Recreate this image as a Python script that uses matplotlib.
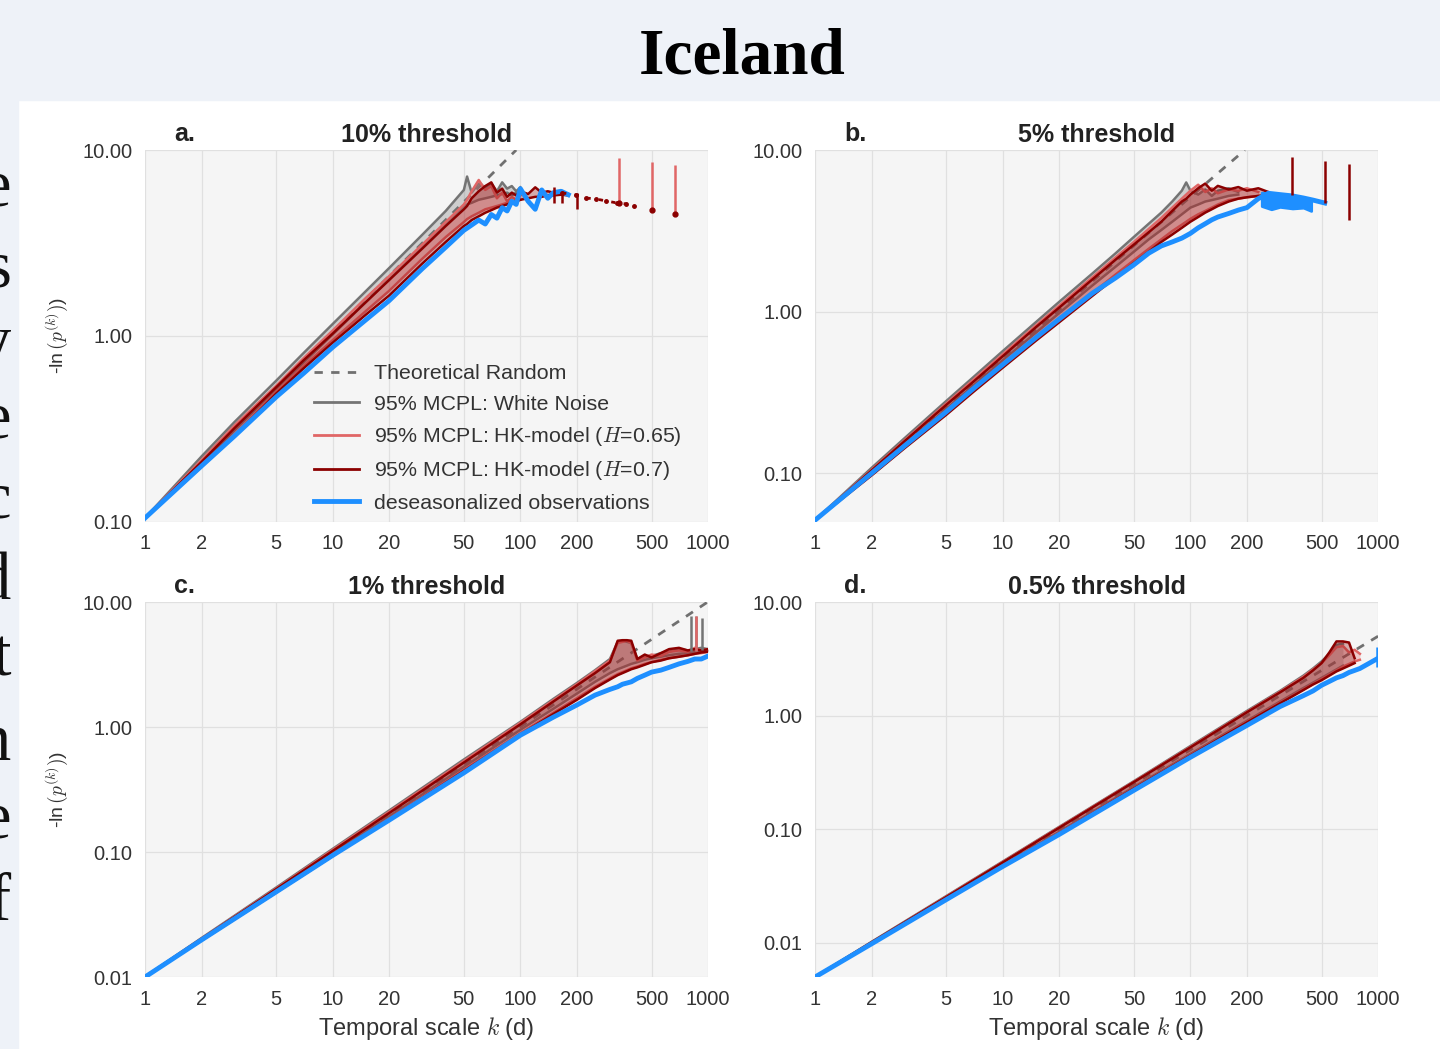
import numpy as np
import matplotlib.pyplot as plt
from matplotlib.patches import Rectangle
from matplotlib.lines import Line2D
from matplotlib.ticker import FixedLocator, FixedFormatter, NullLocator

plt.rcParams['font.family'] = ['Liberation Sans', 'DejaVu Sans']
plt.rcParams['mathtext.fontset'] = 'cm'

nan = np.nan

# x ticks shared by all panels
x_ticks = [1, 2, 5, 10, 20, 50, 100, 200, 500, 1000]

# ---- panel a: 10% threshold ----
k_a = [1, 2, 3, 5, 7, 10, 15, 20, 30, 40, 50, 52, 55, 60, 65, 70, 75, 80, 85, 90,
       95, 100, 110, 120, 130, 140, 150, 165, 180]
theo_k_a = [1, 95]
theo_v_a = [0.105, 10.0]
wn_hi_a = [0.105, 0.225, 0.345, 0.575, 0.81, 1.16, 1.74, 2.32, 3.5, 4.7, 6.1, 7.2, 5.9, 6.6,
           6.3, 6.6, 6.0, 6.7, 6.2, 6.4, 6.0, 6.3, nan, nan, nan, nan, nan, nan, nan]
wn_lo_a = [0.105, 0.205, 0.31, 0.52, 0.72, 1.02, 1.52, 2.02, 3.0, 4.0, 5.0, 5.1, 5.2, 5.4,
           5.5, 5.6, 5.7, 5.8, 5.9, 5.7, 5.9, 6.0, nan, nan, nan, nan, nan, nan, nan]
hk65_hi_a = [0.105, 0.215, 0.33, 0.54, 0.76, 1.07, 1.6, 2.1, 3.1, 4.1, 5.1, 5.4, 6.0, 6.9,
             6.1, 6.4, 5.5, 5.9, 5.3, 5.6, 5.4, 5.7, nan, nan, nan, nan, nan, nan, nan]
hk65_lo_a = [0.105, 0.2, 0.295, 0.5, 0.69, 0.95, 1.36, 1.75, 2.6, 3.4, 4.1, 4.25, 4.4, 4.6,
             4.8, 4.9, 5.0, 5.1, 5.2, 5.3, 5.3, 5.4, nan, nan, nan, nan, nan, nan, nan]
hk70_hi_a = [0.105, 0.21, 0.32, 0.53, 0.74, 1.03, 1.52, 2.0, 2.95, 3.9, 4.8, 5.0, 5.5, 6.0,
             6.4, 6.7, 5.9, 6.2, 5.6, 5.9, 5.7, 6.0, 5.8, 6.3, 5.9, 6.0, 5.9, 5.88, 5.8]
hk70_lo_a = [0.105, 0.198, 0.29, 0.49, 0.67, 0.92, 1.3, 1.65, 2.45, 3.2, 3.9, 4.0, 4.2, 4.4,
             4.6, 4.75, 4.9, 5.0, 5.1, 5.2, 5.3, 5.4, 5.5, 5.6, 5.6, 5.7, 5.7, 5.75, 5.7]
obs_a = [0.105, 0.2, 0.29, 0.47, 0.63, 0.87, 1.22, 1.55, 2.3, 3.0, 3.7, 3.8, 3.95, 4.2,
         4.0, 4.5, 4.3, 4.9, 4.7, 5.3, 5.1, 6.2, 5.3, 4.8, 6.1, 5.5, 5.9, 6.0, 5.75]
tail_k_a = [167, 199, 224, 254, 287, 328, 366, 404]
tail_v_a = [5.88, 5.73, 5.52, 5.45, 5.32, 5.19, 5.13, 5.0]
spike_k_a = [336, 504, 667]
spike_top_a = [9.06, 8.6, 8.3]
spike_bot_a = [5.19, 4.76, 4.53]
tick_k_a = [152, 167, 200]
tick_top_a = [6.3, 5.9, 5.9]
tick_bot_a = [5.2, 5.2, 4.8]

# ---- panel b: 5% threshold ----
k_b = [1, 2, 3, 5, 7, 10, 15, 20, 30, 40, 50, 60, 70, 80, 90, 95, 100, 110, 120, 130,
       140, 160, 180, 200, 230, 260, 300, 350, 400, 450, 520]
theo_k_b = [1, 195]
theo_v_b = [0.0513, 10.0]
wn_hi_b = [0.0513, 0.108, 0.165, 0.28, 0.395, 0.57, 0.86, 1.15, 1.72, 2.3, 2.9, 3.5, 4.1, 4.8,
           5.6, 6.3, 5.6, 5.3, 5.7, 5.2, 5.6, 5.8, 5.5, nan, nan, nan, nan, nan, nan, nan, nan]
wn_lo_b = [0.0513, 0.1, 0.15, 0.25, 0.35, 0.5, 0.74, 0.98, 1.45, 1.9, 2.35, 2.8, 3.2, 3.6,
           4.0, 4.2, 4.4, 4.6, 4.8, 4.9, 5.0, 5.2, 5.3, nan, nan, nan, nan, nan, nan, nan, nan]
hk65_hi_b = [0.0513, 0.105, 0.16, 0.27, 0.38, 0.545, 0.82, 1.09, 1.63, 2.17, 2.7, 3.25, 3.8, 4.4,
             5.0, 5.3, 5.6, 6.1, 5.5, 5.8, 5.4, 5.7, 5.6, 5.8, 5.5, nan, nan, nan, nan, nan, nan]
hk65_lo_b = [0.0513, 0.098, 0.145, 0.235, 0.33, 0.46, 0.68, 0.89, 1.3, 1.7, 2.08, 2.45, 2.8, 3.15,
             3.45, 3.6, 3.75, 4.0, 4.2, 4.4, 4.6, 4.9, 5.0, 5.1, 5.2, nan, nan, nan, nan, nan, nan]
hk70_hi_b = [0.0513, 0.104, 0.158, 0.265, 0.37, 0.53, 0.8, 1.06, 1.58, 2.1, 2.6, 3.1, 3.6, 4.2,
             4.8, 5.0, 5.3, 5.8, 6.2, 5.6, 6.0, 5.7, 5.9, 5.6, 5.8, 5.5, nan, nan, nan, nan, nan]
hk70_lo_b = [0.0513, 0.097, 0.143, 0.23, 0.32, 0.45, 0.66, 0.86, 1.25, 1.63, 2.0, 2.35, 2.7, 3.0,
             3.3, 3.45, 3.6, 3.85, 4.1, 4.3, 4.5, 4.8, 5.0, 5.1, 5.2, 5.3, nan, nan, nan, nan, nan]
obs_b = [0.0513, 0.1, 0.148, 0.24, 0.335, 0.47, 0.69, 0.9, 1.3, 1.62, 1.95, 2.3, 2.55, 2.7,
         2.85, 2.95, 3.05, 3.3, 3.5, 3.7, 3.85, 4.05, 4.25, 4.4, 5.0, 5.4, 5.3, 5.2, 5.05, 4.9, 4.7]
band_k_b = [240, 270, 300, 350, 400, 440]
band_hi_b = [5.45, 5.35, 5.3, 5.2, 5.05, 4.95]
band_lo_b = [4.5, 4.3, 4.45, 4.35, 4.4, 4.2]
spike_k_b = [349, 523, 701]
spike_top_b = [9.0, 8.5, 8.2]
spike_bot_b = [5.3, 4.7, 3.7]

# ---- panel c: 1% threshold ----
k_c = [1, 2, 5, 10, 20, 50, 100, 150, 200, 250, 300, 330, 350, 370, 390, 420, 460, 500,
       560, 620, 700, 780, 850, 920, 1000]
theo_k_c = [1, 995]
theo_v_c = [0.01005, 10.0]
wn_hi_c = [0.01005, 0.0205, 0.052, 0.106, 0.215, 0.55, 1.1, 1.68, 2.25, 2.85, 3.5, 4.8, 4.9,
           4.8, 4.7, 3.5, 3.7, 3.7, 3.9, 4.0, 4.2, 4.1, 4.2, 4.3, 4.2]
wn_lo_c = [0.01005, 0.0198, 0.049, 0.097, 0.193, 0.48, 0.95, 1.4, 1.85, 2.3, 2.7, 2.9, 3.0,
           3.1, 3.2, 3.3, 3.45, 3.55, 3.65, 3.75, 3.85, 3.9, 4.0, 4.05, 4.1]
hk65_hi_c = [0.01005, 0.0203, 0.051, 0.104, 0.21, 0.535, 1.08, 1.64, 2.2, 2.8, 3.4, 4.7, 4.8,
             4.9, 4.7, 3.4, 3.6, 3.8, 3.7, 4.0, 4.1, 4.0, 4.3, 4.1, 4.2]
hk65_lo_c = [0.01005, 0.0197, 0.048, 0.094, 0.185, 0.455, 0.89, 1.3, 1.7, 2.1, 2.45, 2.65, 2.75,
             2.85, 2.95, 3.05, 3.2, 3.3, 3.45, 3.55, 3.65, 3.75, 3.85, 3.9, 4.0]
hk70_hi_c = [0.01005, 0.0202, 0.0505, 0.102, 0.205, 0.52, 1.05, 1.6, 2.15, 2.7, 3.3, 4.9, 4.95,
             4.95, 4.9, 3.5, 3.8, 3.6, 3.9, 4.2, 4.3, 4.1, 4.2, 4.1, 4.2]
hk70_lo_c = [0.01005, 0.0196, 0.0475, 0.093, 0.182, 0.445, 0.87, 1.27, 1.65, 2.05, 2.4, 2.6, 2.7,
             2.8, 2.9, 3.0, 3.15, 3.3, 3.4, 3.55, 3.65, 3.75, 3.85, 3.95, 4.0]
obs_c = [0.01, 0.0198, 0.048, 0.094, 0.18, 0.43, 0.86, 1.2, 1.5, 1.8, 2.0, 2.1, 2.2, 2.25,
         2.3, 2.45, 2.6, 2.75, 2.85, 3.0, 3.2, 3.35, 3.5, 3.5, 3.7]
spike_k_c = [812, 864, 929]
spike_top_c = [7.7, 7.7, 7.5]
spike_bot_c = [4.05, 4.05, 4.1]

# ---- panel d: 0.5% threshold ----
k_d = [1, 2, 5, 10, 20, 50, 100, 200, 300, 400, 450, 500, 550, 600, 650, 700, 750, 800,
       900, 1000]
theo_k_d = [1, 1000]
theo_v_d = [0.005, 5.0]
wn_hi_d = [0.005, 0.0102, 0.0258, 0.052, 0.105, 0.265, 0.54, 1.1, 1.65, 2.25, 2.6, 3.0, 3.5,
           4.2, 4.3, nan, nan, nan, nan, nan]
wn_lo_d = [0.005, 0.0099, 0.0245, 0.048, 0.095, 0.235, 0.46, 0.9, 1.33, 1.75, 1.95, 2.15, 2.35,
           2.55, 2.75, nan, nan, nan, nan, nan]
hk65_hi_d = [0.005, 0.0101, 0.0255, 0.0515, 0.104, 0.262, 0.53, 1.08, 1.62, 2.2, 2.55, 2.9, 3.4,
             4.0, 4.1, 3.6, 3.8, 3.5, nan, nan]
hk65_lo_d = [0.005, 0.0098, 0.0243, 0.0475, 0.093, 0.23, 0.45, 0.88, 1.3, 1.7, 1.9, 2.1, 2.3,
             2.5, 2.7, 2.85, 3.0, 3.1, nan, nan]
hk70_hi_d = [0.005, 0.0101, 0.0253, 0.051, 0.103, 0.26, 0.525, 1.07, 1.6, 2.15, 2.5, 2.9, 3.6,
             4.5, 4.5, 4.4, 3.2, nan, nan, nan]
hk70_lo_d = [0.005, 0.0098, 0.0242, 0.047, 0.092, 0.228, 0.445, 0.87, 1.28, 1.68, 1.88, 2.05,
             2.25, 2.45, 2.6, 2.75, 2.9, nan, nan, nan]
obs_d = [0.005, 0.0098, 0.024, 0.047, 0.09, 0.22, 0.43, 0.82, 1.2, 1.5, 1.65, 1.85, 2.0, 2.15,
         2.25, 2.4, 2.5, 2.6, 2.9, 3.2]
spike_k_d = [985]
spike_top_d = [4.0]
spike_bot_d = [2.7]

GRAY = '#747474'
LRED = '#e06666'
DRED = '#8b0000'
BLUE = '#1e8fff'


def draw_panel(ax, k, theo_k, theo_v, bands, obs, ylim, yticks):
    ax.set_xscale('log')
    ax.set_yscale('log')
    ax.set_facecolor('#f5f5f5')
    for s in ax.spines.values():
        s.set_visible(False)
    ax.grid(True, color='#e0e0e0', lw=0.9)
    ax.set_axisbelow(True)

    for i, (hi, lo, col) in enumerate(bands):
        hi = np.array(hi, float)
        lo = np.array(lo, float)
        ax.fill_between(k, lo, hi, color=col, alpha=0.3, lw=0, zorder=2 + i)
        ax.plot(k, hi, color=col, lw=1.8, zorder=2 + i)
        ax.plot(k, lo, color=col, lw=1.8, zorder=2 + i)
        if i == 0:
            ax.plot(theo_k, theo_v, color='#707070', lw=2, ls=(0, (3, 3)), zorder=2.5)
    ax.plot(k, obs, color=BLUE, lw=3.5, zorder=6)

    ax.set_xlim(1, 1000)
    ax.set_ylim(*ylim)
    ax.xaxis.set_major_locator(FixedLocator(x_ticks))
    ax.xaxis.set_major_formatter(FixedFormatter([str(t) for t in x_ticks]))
    ax.xaxis.set_minor_locator(NullLocator())
    ax.yaxis.set_major_locator(FixedLocator(yticks))
    ax.yaxis.set_major_formatter(FixedFormatter(['%.2f' % t for t in yticks]))
    ax.yaxis.set_minor_locator(NullLocator())
    ax.tick_params(length=0, pad=9, labelsize=14.5, labelcolor='#333333')


def draw_spikes(ax, ks, tops, bots, color, dot=None):
    ax.vlines(ks, bots, tops, color=color, lw=1.8, zorder=7)
    if dot:
        ax.plot(ks, bots, 'o', color=dot, ms=3.5, zorder=7)


fig = plt.figure(figsize=(14.4, 10.49), dpi=100)
fig.patch.set_facecolor('white')
band_col = '#eef2f8'
fig.add_artist(Rectangle((0, 0.9047), 1, 0.0953, transform=fig.transFigure,
                         color=band_col, zorder=-5))
fig.add_artist(Rectangle((0, 0), 0.0125, 0.9047, transform=fig.transFigure,
                         color=band_col, zorder=-5))
fig.text(742 / 1440, 1 - 57 / 1049, 'Iceland', ha='center', va='center', fontsize=47,
         fontweight='bold', family='Liberation Serif')

# cut-off slide text at the left edge
side_letters = ['e', 's', 'y', 'e', 'c', 'd', 't', 'n', 'e', 'f']
side_base = [206, 287, 362, 437, 517, 600, 675, 760, 837, 920]
for ch, yb in zip(side_letters, side_base):
    fig.text(11 / 1440, 1 - yb / 1049, ch, ha='right', va='baseline', fontsize=48,
             family='Liberation Serif', color='#111111')

ax_a = fig.add_axes([0.1007, 0.5024, 0.391, 0.3546])
ax_b = fig.add_axes([0.566, 0.5024, 0.391, 0.3546])
ax_c = fig.add_axes([0.1007, 0.0686, 0.391, 0.3575])
ax_d = fig.add_axes([0.566, 0.0686, 0.391, 0.3575])

draw_panel(ax_a, k_a, theo_k_a, theo_v_a,
           [(wn_hi_a, wn_lo_a, GRAY), (hk65_hi_a, hk65_lo_a, LRED), (hk70_hi_a, hk70_lo_a, DRED)],
           obs_a, (0.1, 10), [0.1, 1, 10])
ax_a.plot(tail_k_a, tail_v_a, color=DRED, lw=2, ls=(0, (1.5, 3)), marker='o', ms=2.5, zorder=7)
draw_spikes(ax_a, spike_k_a, spike_top_a, spike_bot_a, LRED, dot=DRED)
draw_spikes(ax_a, tick_k_a, tick_top_a, tick_bot_a, DRED)

draw_panel(ax_b, k_b, theo_k_b, theo_v_b,
           [(wn_hi_b, wn_lo_b, GRAY), (hk65_hi_b, hk65_lo_b, LRED), (hk70_hi_b, hk70_lo_b, DRED)],
           obs_b, (0.05, 10), [0.1, 1, 10])
ax_b.fill_between(band_k_b, band_lo_b, band_hi_b, color=BLUE, lw=2, edgecolor=BLUE, zorder=6)
draw_spikes(ax_b, spike_k_b, spike_top_b, spike_bot_b, DRED)

draw_panel(ax_c, k_c, theo_k_c, theo_v_c,
           [(wn_hi_c, wn_lo_c, GRAY), (hk65_hi_c, hk65_lo_c, LRED), (hk70_hi_c, hk70_lo_c, DRED)],
           obs_c, (0.01, 10), [0.01, 0.1, 1, 10])
draw_spikes(ax_c, spike_k_c, spike_top_c, spike_bot_c, GRAY)
ax_c.vlines(spike_k_c[1], spike_bot_c[1], spike_top_c[1], color=LRED, lw=1.8, zorder=8)

draw_panel(ax_d, k_d, theo_k_d, theo_v_d,
           [(wn_hi_d, wn_lo_d, GRAY), (hk65_hi_d, hk65_lo_d, LRED), (hk70_hi_d, hk70_lo_d, DRED)],
           obs_d, (0.005, 10), [0.01, 0.1, 1, 10])
draw_spikes(ax_d, spike_k_d, spike_top_d, spike_bot_d, BLUE)

titles = ['10% threshold', '5% threshold', '1% threshold', '0.5% threshold']
letters = ['a.', 'b.', 'c.', 'd.']
for ax, t, l in zip([ax_a, ax_b, ax_c, ax_d], titles, letters):
    ax.set_title(t, fontsize=18, fontweight='bold', color='#222222', pad=6)
    ax.text(0.052, 1.011, l, transform=ax.transAxes, fontsize=18, fontweight='bold',
            color='#222222', va='bottom', ha='left')

for ax in [ax_a, ax_c]:
    ax.set_ylabel(r'-ln$\,(p^{(k)})$)', fontsize=14, color='#333333')
    ax.yaxis.set_label_coords(-0.133, 0.5)
for ax in [ax_c, ax_d]:
    ax.set_xlabel(r'Temporal scale $k$ (d)', fontsize=17, color='#333333', labelpad=5)

handles = [
    Line2D([], [], color='#707070', lw=2, ls=(0, (3, 3))),
    Line2D([], [], color=GRAY, lw=2),
    Line2D([], [], color=LRED, lw=2),
    Line2D([], [], color=DRED, lw=2),
    Line2D([], [], color=BLUE, lw=3.5),
]
labels = ['Theoretical Random', '95% MCPL: White Noise', '95% MCPL: HK-model ($H$=0.65)',
          '95% MCPL: HK-model ($H$=0.7)', 'deseasonalized observations']
leg = ax_a.legend(handles, labels, loc='upper left', bbox_to_anchor=(0.3, 0.4235),
                  frameon=False, fontsize=15.4, handlelength=2.1, handletextpad=0.7,
                  labelspacing=0.53, borderpad=0, borderaxespad=0)
for txt in leg.get_texts():
    txt.set_color('#333333')

fig.savefig('out.png', dpi=100, facecolor=fig.get_facecolor())
